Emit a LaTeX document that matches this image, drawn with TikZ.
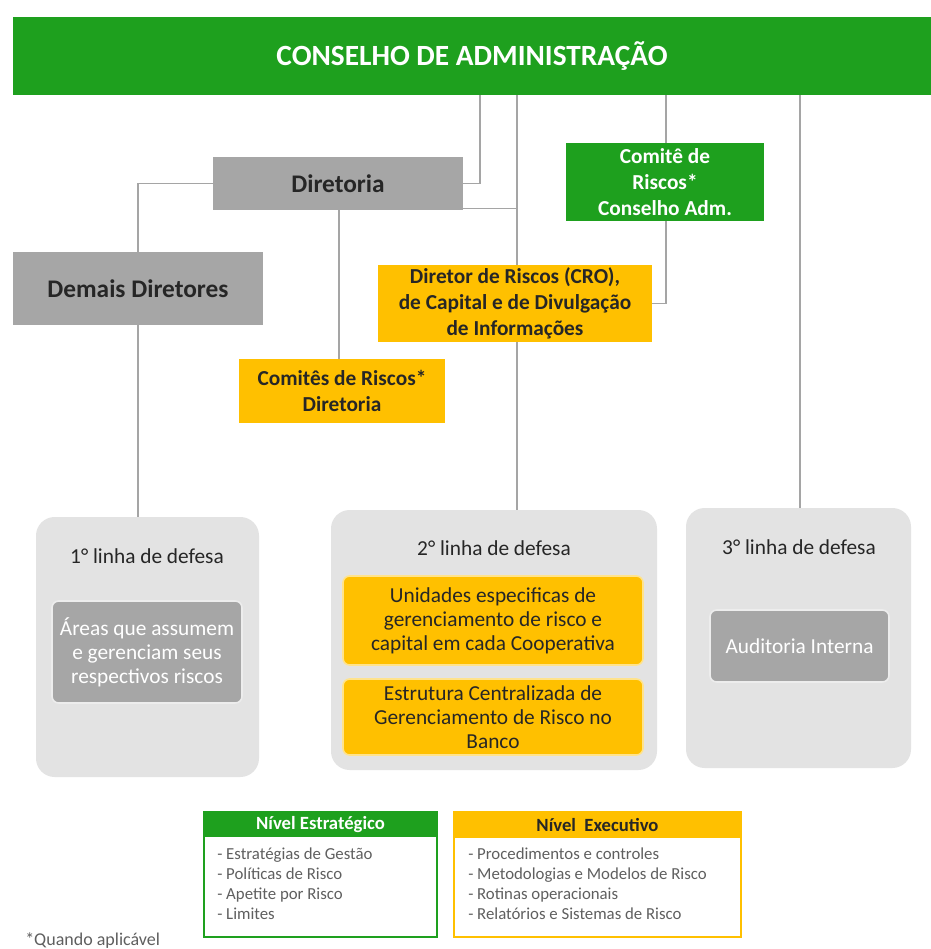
\documentclass[tikz,border=0pt]{standalone}
\usepackage{fontspec}
\setmainfont{Carlito}
\usetikzlibrary{backgrounds,calc}
\definecolor{cgreen}{RGB}{30,160,30}
\definecolor{corange}{RGB}{255,192,0}
\definecolor{cgray}{RGB}{166,166,166}
\definecolor{clight}{RGB}{227,227,227}
\definecolor{cline}{RGB}{165,165,165}
\definecolor{ctext}{RGB}{38,38,38}
\definecolor{citem}{RGB}{95,95,95}
\begin{document}
\begin{tikzpicture}[x=0.75pt,y=-0.75pt,
  sz/.style 2 args={minimum width=#1*0.75pt, minimum height=#2*0.75pt},
  box/.style={inner sep=0pt, align=center},
  greenbox/.style={box, fill=cgreen, text=white, font=\bfseries\fontsize{16}{19.5}\selectfont},
  orangebox/.style={box, fill=corange, text=ctext, font=\bfseries\fontsize{16}{19.5}\selectfont},
  graybox/.style={box, fill=cgray, text=ctext, font=\bfseries\fontsize{19}{23}\selectfont},
  linebox/.style={box, fill=clight, rounded corners=14pt},
  innergray/.style={box, fill=cgray, draw=white!80!cgray, line width=1.2pt, rounded corners=5pt, text=white, font=\fontsize{16}{18}\selectfont},
  innerorange/.style={box, fill=corange, draw=corange!45!white, line width=1.2pt, rounded corners=5pt, text=ctext, font=\fontsize{16}{18}\selectfont},
  ltitle/.style={inner sep=0pt, text=ctext, font=\fontsize{16}{19}\selectfont},
  conn/.style={draw=cline, line width=1.1pt},
  item/.style={inner sep=0pt, anchor=base west, text=citem, font=\fontsize{12.6}{15}\selectfont},
  legendframe/.style={inner sep=0pt, line width=1.5pt},
  legendhead/.style={inner sep=0pt, font=\bfseries\fontsize{14}{17}\selectfont},
]
\useasboundingbox (0,0) rectangle (931,949);
\begin{pgfonlayer}{background}
  \fill[white] (0,0) rectangle (931,949);
\end{pgfonlayer}

% top
\node[greenbox, font=\bfseries\fontsize{22}{26}\selectfont, sz={918}{78}] (cons) at (472,56) {CONSELHO DE ADMINISTRAÇÃO};
\node[graybox, sz={250}{53}] (dir) at (338,183.5) {Diretoria};
\node[graybox, sz={250}{73}] (dem) at (138,288.5) {Demais Diretores};
\node[greenbox, sz={198}{78}] (comite) at (665,182) {Comitê de\\Riscos*\\Conselho Adm.};
\node[orangebox, sz={274}{77}] (cro) at (515,303.5) {Diretor de Riscos (CRO),\\de Capital e de Divulgação\\de Informações};
\node[orangebox, sz={206}{64}] (cd) at (342,391) {Comitês de Riscos*\\Diretoria};

% lines of defence
\node[linebox, sz={223}{260}] (l1) at (147.5,647) {};
\node[linebox, sz={326}{260}] (l2) at (494,640) {};
\node[linebox, sz={225}{260}] (l3) at (798.5,638) {};
\node[ltitle] (t1) at (147,556) {1° linha de defesa};
\node[ltitle] (t2) at (494,548) {2° linha de defesa};
\node[ltitle] (t3) at (799,547) {3° linha de defesa};
\node[innergray, sz={190}{102}] (a1) at (147,652) {Áreas que assumem\\e gerenciam seus\\respectivos riscos};
\node[innerorange, sz={300}{89}] (o1) at (493,620.5) {Unidades especificas de\\gerenciamento de risco e\\capital em cada Cooperativa};
\node[innerorange, sz={300}{76}] (o2) at (493,717) {Estrutura Centralizada de\\Gerenciamento de Risco no\\Banco};
\node[innergray, sz={179}{72}] (a3) at (799.5,646) {Auditoria Interna};

% legend
\node[legendframe, draw=cgreen, fill=white, sz={233}{125}] (lg) at (320.5,874.5) {};
\node[legendhead, fill=cgreen, text=white, sz={233}{25}] (lgh) at (320.5,824.5) {Nível Estratégico};
\node[legendframe, draw=corange, fill=white, sz={287}{125}] (ly) at (597.5,874.5) {};
\node[legendhead, fill=corange, text=ctext, sz={287}{26}] (lyh) at (597.5,825) {Nível~ Executivo};
\foreach \t [count=\i] in {Estratégias de Gestão, Políticas de Risco, Apetite por Risco, Limites}
  \node[item] (ge\i) at (217,{839+20*\i}) {- \t};
\foreach \t [count=\i] in {Procedimentos e controles, Metodologias e Modelos de Risco, Rotinas operacionais, Relatórios e Sistemas de Risco}
  \node[item] (ye\i) at (468,{839+20*\i}) {- \t};
\node[item, font=\fontsize{13.5}{16}\selectfont] (nota) at (25,945) {*Quando aplicável};

% connectors
\coordinate (x339) at (339,0);
\coordinate (x480) at (480,0);
\coordinate (x517) at (517,0);
\coordinate (x666) at (666,0);
\coordinate (x800) at (800,0);
\coordinate (dse) at ($(dir.south east)+(0,-2)$);
\begin{pgfonlayer}{background}
  \draw[conn] (cons.south -| x480) |- (dir.east);
  \draw[conn] (cons.south -| x517) -- (l2.north -| x517);
  \draw[conn] (dse) -- (dse -| x517);
  \draw[conn] (cons.south -| x666) -- (comite.north -| x666);
  \draw[conn] (comite.south -| x666) |- (cro.east);
  \draw[conn] (cons.south -| x800) -- (l3.north -| x800);
  \draw[conn] (dir.west) -| (dem.north);
  \draw[conn] (dem.south) -- (l1.north -| dem.south);
  \draw[conn] (dir.south -| x339) -- (cd.north -| x339);
\end{pgfonlayer}
\end{tikzpicture}
\end{document}
